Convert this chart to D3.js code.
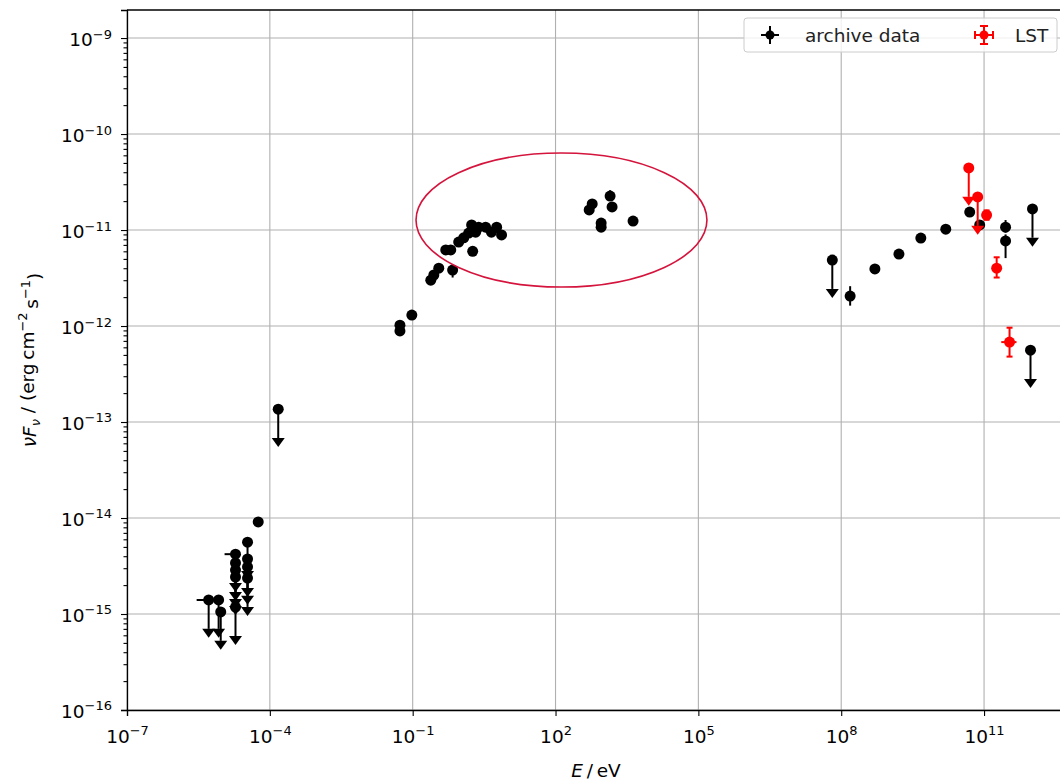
<!DOCTYPE html>
<html>
<head>
<meta charset="utf-8">
<script src="https://cdn.jsdelivr.net/npm/d3@7"></script>
<style>
  body { margin: 0; background: #fff; }
  text { font-family: "DejaVu Sans", sans-serif; }
</style>
</head>
<body>
<div id="sed"></div>
<script>
// ---- archive data: measured points (E in eV, nuFnu in erg cm^-2 s^-1)
var archiveE   = [5.7e-5, 0.054, 0.054, 0.096, 0.24, 0.278, 0.353, 0.69, 0.495, 0.63, 0.925, 1.18, 1.5, 1.82,
                  1.73, 2.43, 3.4, 5.8, 2.1, 4.5, 7.35,
                  509, 589, 1400, 1540, 908, 908, 4250,
                  1.54e8, 5.1e8, 1.63e9, 4.7e9, 1.57e10, 5.0e10, 8.1e10, 2.83e11, 2.83e11];
var archiveF   = [9.1e-15, 1.02e-12, 8.9e-13, 1.30e-12, 3.0e-12, 3.4e-12, 4.0e-12, 3.83e-12, 6.2e-12, 6.2e-12, 7.5e-12, 8.3e-12, 9.3e-12, 6.0e-12,
                  1.13e-11, 1.07e-11, 1.07e-11, 1.07e-11, 9.5e-12, 9.5e-12, 8.9e-12,
                  1.62e-11, 1.87e-11, 2.26e-11, 1.74e-11, 1.18e-11, 1.07e-11, 1.24e-11,
                  2.05e-12, 3.93e-12, 5.62e-12, 8.25e-12, 1.02e-11, 1.54e-11, 1.13e-11, 1.07e-11, 7.7e-12];
var archiveFLo = [null, null, null, null, null, null, null, 3.2e-12, null, null, null, null, null, null,
                  null, null, null, null, null, null, null,
                  1.45e-11, null, 2.1e-11, null, null, null, null,
                  1.63e-12, null, null, null, null, null, 1.05e-11, 9.4e-12, 5.1e-12];
var archiveFHi = [null, null, null, null, null, null, null, 4.3e-12, null, null, null, null, null, null,
                  null, null, null, null, null, null, null,
                  2.0e-11, null, 2.6e-11, null, null, null, null,
                  2.6e-12, null, null, null, null, null, 1.2e-11, 1.27e-11, 9.0e-12];

// ---- archive data: upper limits
var archiveUlE    = [5.19e-6, 8.4e-6, 9.3e-6, 1.9e-5, 1.9e-5, 1.9e-5, 1.9e-5, 1.9e-5,
                     3.4e-5, 3.4e-5, 3.4e-5, 3.4e-5, 1.5e-4, 6.5e7, 9.45e11, 1.04e12];
var archiveUlF    = [1.40e-15, 1.40e-15, 1.05e-15, 4.2e-15, 3.4e-15, 2.87e-15, 2.43e-15, 1.18e-15,
                     5.6e-15, 3.74e-15, 3.09e-15, 2.37e-15, 1.36e-13, 4.87e-12, 5.6e-13, 1.66e-11];
var archiveUlELo  = [2.9e-6, null, null, 1.12e-5, null, null, null, null,
                     null, null, null, null, null, null, null, null];

// ---- LST
var lstE    = [1.13e11, 1.84e11, 3.43e11];
var lstF    = [1.43e-11, 4.0e-12, 6.8e-13];
var lstFLo  = [1.28e-11, 3.2e-12, 4.8e-13];
var lstFHi  = [1.6e-11, 5.2e-12, 9.6e-13];
var lstELo  = [1.0e11, 1.6e11, 2.3e11];
var lstEHi  = [1.28e11, 2.1e11, 4.8e11];
var lstUlE  = [4.77e10, 7.35e10];
var lstUlF  = [4.43e-11, 2.21e-11];

// ---- axis ticks and the highlighted region (ellipse bounds in data units)
var xTicks = [1e-7, 1e-4, 1e-1, 1e2, 1e5, 1e8, 1e11];
var yTicks = [1e-16, 1e-15, 1e-14, 1e-13, 1e-12, 1e-11, 1e-10, 1e-9];
var ellipseE = [Math.pow(10, -0.93), Math.pow(10, 5.18)];
var ellipseF = [Math.pow(10, -11.594), Math.pow(10, -10.198)];

var width = 1060, height = 782;
var plot = {left: 127, right: 1065, top: 10, bottom: 710};
var fs = 18.5, fsSup = 13;

var svg = d3.select("#sed")
  .append("svg")
    .attr("width", width)
    .attr("height", height);

var x = d3.scaleLog()
  .domain([1e-7, Math.pow(10, 12.7)])
  .range([plot.left, plot.right]);
var y = d3.scaleLog()
  .domain([1e-16, Math.pow(10, -8.708)])
  .range([plot.bottom, plot.top]);

svg.append("clipPath").attr("id", "clip")
  .append("rect")
    .attr("x", plot.left).attr("y", plot.top)
    .attr("width", plot.right - plot.left).attr("height", plot.bottom - plot.top);

// grid
var grid = svg.append("g");
grid.selectAll(".gx").data(xTicks).enter().append("line")
  .attr("x1", function(d) { return x(d); }).attr("x2", function(d) { return x(d); })
  .attr("y1", plot.top).attr("y2", plot.bottom)
  .attr("stroke", "#b0b0b0").attr("stroke-width", 1.1);
grid.selectAll(".gy").data(yTicks).enter().append("line")
  .attr("y1", function(d) { return y(d); }).attr("y2", function(d) { return y(d); })
  .attr("x1", plot.left).attr("x2", plot.right)
  .attr("stroke", "#b0b0b0").attr("stroke-width", 1.1);

function powLabel(d) {
  var e = Math.round(Math.log10(d));
  var t = d3.select(this);
  t.text(null);
  t.append("tspan").text("10");
  t.append("tspan").attr("dy", "-0.6em").attr("font-size", fsSup + "px")
    .text(e < 0 ? "\u2212" + (-e) : String(e));
}

// axes
var xAxis = svg.append("g")
  .attr("transform", "translate(0," + plot.bottom + ")")
  .call(d3.axisBottom(x).tickValues(xTicks).tickSize(6).tickPadding(18));
xAxis.selectAll(".tick text").attr("font-size", fs).attr("fill", "#000").attr("dy", "0.5em").each(powLabel);

var yMinor = [];
yTicks.forEach(function(t) { for (var k = 2; k < 10; k++) if (t * k < y.domain()[1]) yMinor.push(t * k); });
svg.append("g")
  .attr("transform", "translate(" + plot.left + ",0)")
  .call(d3.axisLeft(y).tickValues(yMinor).tickSize(3.5).tickFormat(""))
  .call(function(g) { g.select(".domain").remove(); });

var yAxis = svg.append("g")
  .attr("transform", "translate(" + plot.left + ",0)")
  .call(d3.axisLeft(y).tickValues(yTicks).tickSize(6).tickPadding(9));
yAxis.selectAll(".tick text").attr("font-size", fs).attr("fill", "#000").attr("dy", "0.42em").each(powLabel);

[xAxis, yAxis].forEach(function(a) {
  a.select(".domain").attr("stroke-width", 1.3);
});
svg.selectAll(".tick line").attr("stroke-width", 1.1);

// top spine
svg.append("line")
  .attr("x1", plot.left).attr("x2", plot.right)
  .attr("y1", plot.top).attr("y2", plot.top)
  .attr("stroke", "#000").attr("stroke-width", 1.3);

// axis labels
var xl = svg.append("text")
  .attr("x", (plot.left + plot.right) / 2).attr("y", 777)
  .attr("text-anchor", "middle").attr("font-size", fs);
xl.append("tspan").attr("font-style", "italic").text("E");
xl.append("tspan").text("\u2009/\u2009eV");

var yl = svg.append("text")
  .attr("transform", "translate(36," + (plot.top + plot.bottom) / 2 + ") rotate(-90)")
  .attr("text-anchor", "middle").attr("font-size", fs);
yl.append("tspan").attr("font-style", "italic").text("\u03bdF");
yl.append("tspan").attr("font-style", "italic").attr("font-size", fsSup + "px").attr("dy", "0.3em").text("\u03bd");
yl.append("tspan").attr("dy", "-0.3em").text(" / (erg\u2009cm");
yl.append("tspan").attr("font-size", fsSup + "px").attr("dy", "-0.6em").text("\u22122");
yl.append("tspan").attr("dy", "0.6em").text("\u2009s");
yl.append("tspan").attr("font-size", fsSup + "px").attr("dy", "-0.6em").text("\u22121");
yl.append("tspan").attr("dy", "0.6em").text(")");

// data layer
var layer = svg.append("g").attr("clip-path", "url(#clip)");

function drawPoints(E, F, FLo, FHi, ELo, EHi, color, caps) {
  var g = layer.append("g");
  E.forEach(function(e, i) {
    if (FLo && FLo[i] != null) {
      g.append("line").attr("x1", x(e)).attr("x2", x(e))
        .attr("y1", y(FLo[i])).attr("y2", y(FHi[i]))
        .attr("stroke", color).attr("stroke-width", 2);
      if (caps) {
        [FLo[i], FHi[i]].forEach(function(v) {
          g.append("line").attr("x1", x(e) - 3).attr("x2", x(e) + 3)
            .attr("y1", y(v)).attr("y2", y(v)).attr("stroke", color).attr("stroke-width", 2);
        });
      }
    }
    if (ELo && ELo[i] != null) {
      g.append("line").attr("x1", x(ELo[i])).attr("x2", x(EHi ? EHi[i] : e))
        .attr("y1", y(F[i])).attr("y2", y(F[i]))
        .attr("stroke", color).attr("stroke-width", 2);
    }
    g.append("circle").attr("cx", x(e)).attr("cy", y(F[i])).attr("r", 5.5).attr("fill", color);
  });
}

function drawUpperLimits(E, F, ELo, color) {
  var g = layer.append("g");
  E.forEach(function(e, i) {
    var px = x(e), py = y(F[i]), pEnd = y(F[i] * 0.5);
    if (ELo && ELo[i] != null) {
      g.append("line").attr("x1", x(ELo[i])).attr("x2", px).attr("y1", py).attr("y2", py)
        .attr("stroke", color).attr("stroke-width", 2);
    }
    g.append("line").attr("x1", px).attr("x2", px).attr("y1", py).attr("y2", pEnd)
      .attr("stroke", color).attr("stroke-width", 2);
    g.append("path")
      .attr("d", "M" + (px - 6.5) + "," + pEnd + "L" + (px + 6.5) + "," + pEnd + "L" + px + "," + (pEnd + 9) + "Z")
      .attr("fill", color);
    g.append("circle").attr("cx", px).attr("cy", py).attr("r", 5.5).attr("fill", color);
  });
}

drawUpperLimits(archiveUlE, archiveUlF, archiveUlELo, "#000");
drawPoints(archiveE, archiveF, archiveFLo, archiveFHi, null, null, "#000", false);
drawUpperLimits(lstUlE, lstUlF, null, "#ff0000");
drawPoints(lstE, lstF, lstFLo, lstFHi, lstELo, lstEHi, "#ff0000", true);

// highlight ellipse
var ex0 = x(ellipseE[0]), ex1 = x(ellipseE[1]);
var ey0 = y(ellipseF[1]), ey1 = y(ellipseF[0]);
svg.append("ellipse")
  .attr("cx", (ex0 + ex1) / 2).attr("cy", (ey0 + ey1) / 2)
  .attr("rx", (ex1 - ex0) / 2).attr("ry", (ey1 - ey0) / 2)
  .attr("fill", "none").attr("stroke", "#d4143c").attr("stroke-width", 1.6);

// legend
var lg = svg.append("g").attr("transform", "translate(744,18)");
lg.append("rect").attr("width", 313).attr("height", 34).attr("rx", 3)
  .attr("fill", "#fff").attr("fill-opacity", 0.8).attr("stroke", "#cccccc");
function legendMarker(cx, color, caps) {
  lg.append("line").attr("x1", cx - 9).attr("x2", cx + 9).attr("y1", 17).attr("y2", 17)
    .attr("stroke", color).attr("stroke-width", 2);
  lg.append("line").attr("x1", cx).attr("x2", cx).attr("y1", 8).attr("y2", 26)
    .attr("stroke", color).attr("stroke-width", 2);
  if (caps) {
    lg.append("line").attr("x1", cx - 4).attr("x2", cx + 4).attr("y1", 8).attr("y2", 8).attr("stroke", color).attr("stroke-width", 2);
    lg.append("line").attr("x1", cx - 4).attr("x2", cx + 4).attr("y1", 26).attr("y2", 26).attr("stroke", color).attr("stroke-width", 2);
    lg.append("line").attr("x1", cx - 9).attr("x2", cx - 9).attr("y1", 13).attr("y2", 21).attr("stroke", color).attr("stroke-width", 2);
    lg.append("line").attr("x1", cx + 9).attr("x2", cx + 9).attr("y1", 13).attr("y2", 21).attr("stroke", color).attr("stroke-width", 2);
  }
  lg.append("circle").attr("cx", cx).attr("cy", 17).attr("r", 4.5).attr("fill", color);
}
legendMarker(26, "#000", false);
lg.append("text").attr("x", 61).attr("y", 23.5).attr("font-size", fs).attr("fill", "#222").text("archive data");
legendMarker(240, "#ff0000", true);
lg.append("text").attr("x", 271).attr("y", 23.5).attr("font-size", fs).attr("fill", "#222").text("LST");
</script>
</body>
</html>
